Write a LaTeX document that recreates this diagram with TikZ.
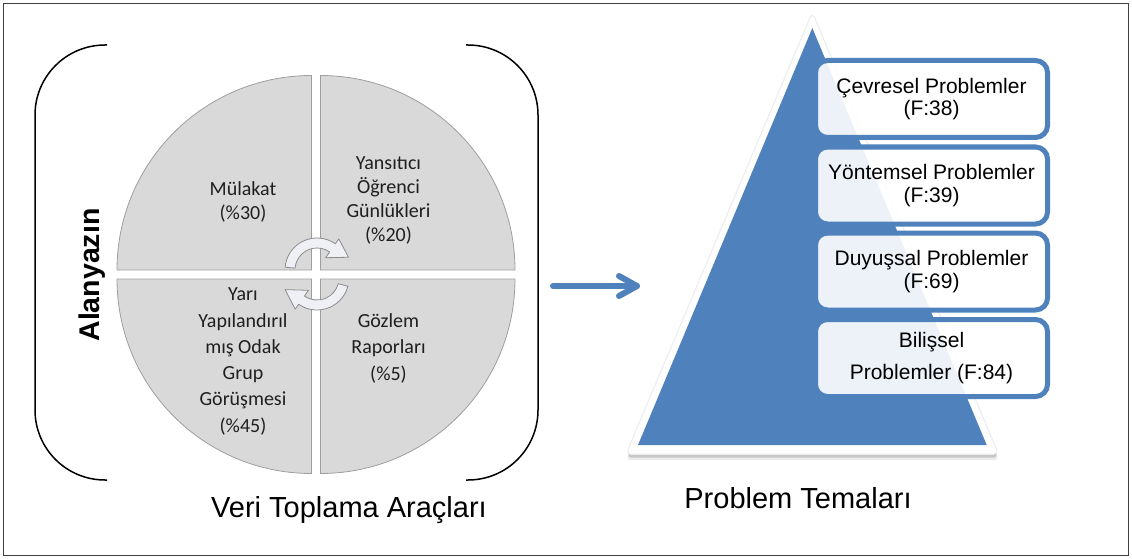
\documentclass[tikz,border=0pt]{standalone}
\usepackage{fontspec}
\setmainfont{Liberation Sans}
\newfontfamily\carl{Carlito}
\usetikzlibrary{arrows.meta}
\definecolor{myblue}{RGB}{79,129,189}
\definecolor{cycfill}{RGB}{238,240,246}
\begin{document}
\begin{tikzpicture}[x=1pt,y=1pt,yscale=-1,
  quad/.style={fill=black!15, draw=black!38, line width=0.8pt},
  qtext/.style={font=\carl\fontsize{20}{24}\selectfont, align=center, text=black!88},
  cyc/.style={fill=cycfill, draw=black!45, line width=0.8pt, line join=round},
  pbox/.style={draw=myblue, line width=5pt, rounded corners=12pt, fill=white, fill opacity=0.9, text opacity=1,
    minimum width=232pt, minimum height=77pt, align=center, inner sep=0pt, font=\fontsize{21}{22.5}\selectfont},
  brk/.style={line width=1.5pt, rounded corners=70pt},
  lbl/.style={font=\fontsize{29}{32}\selectfont, anchor=base},
  bigarrow/.style={myblue, line width=6pt, line cap=round, line join=round}
]
\useasboundingbox (0,0) rectangle (1132,559);
% frame
\draw[black!75, line width=1pt] (3.5,4) rectangle (1128.5,555.5);
% brackets
\draw[brk] (107,45) -- (35,45) -- (35,480) -- (107,480);
\draw[brk] (466,45) -- (538,45) -- (538,480) -- (466,480);
% quadrants
\draw[quad] (311.5,270) -- ++(-194.5,0) arc[start angle=180, end angle=270, radius=194.5] -- cycle;
\draw[quad] (320.5,270) -- ++(194.5,0) arc[start angle=0, end angle=-90, radius=194.5] -- cycle;
\draw[quad] (311.5,279) -- ++(-194.5,0) arc[start angle=180, end angle=90, radius=194.5] -- cycle;
\draw[quad] (320.5,279) -- ++(194.5,0) arc[start angle=0, end angle=90, radius=194.5] -- cycle;
% quadrant texts
\node[qtext] (q1) at (243,201.5) {Mülakat\\(\%30)};
\node[qtext] (q2) at (388.5,200.5) {Yansıtıcı\\Öğrenci\\Günlükleri\\(\%20)};
\node[qtext, font=\carl\fontsize{20}{26.3}\selectfont] (q3) at (243,361.5) {Yarı\\Yapılandırıl\\mış Odak\\Grup\\Görüşmesi\\(\%45)};
\node[qtext, font=\carl\fontsize{20}{26.5}\selectfont] (q4) at (388.5,348) {Gözlem\\Raporları\\(\%5)};
% circular arrows
\begin{scope}[shift={(317,270)}]
\draw[cyc] (-175:32) arc[start angle=-175, end angle=-55, radius=32] -- (-55:38) -- (-22:34) -- (-55:15) -- (-55:22) arc[start angle=-55, end angle=-175, radius=22] -- cycle;
\end{scope}
\begin{scope}[shift={(317,278)}]
\draw[cyc] (15:32) arc[start angle=15, end angle=125, radius=32] -- (125:38) -- (160:34) -- (125:15) -- (125:22) arc[start angle=125, end angle=15, radius=22] -- cycle;
\end{scope}
% Alanyazin
\node[font=\bfseries\fontsize{28.5}{32}\selectfont, rotate=90] (alan) at (92,275) {Alanyazın};
% captions
\node[lbl] (cap1) at (349,517) {Veri Toplama Araçları};
\node[lbl] (cap2) at (798,508) {Problem Temaları};
% big arrow
\coordinate (as) at (553,286);
\coordinate (ae) at (637,286);
\draw[bigarrow] (as) -- (ae);
\draw[bigarrow] ([shift={(-18,-10)}]ae) -- (ae) -- ([shift={(-18,10)}]ae);
% triangle with white border and shadow
\fill[black!8, rounded corners=4pt] (812.3,20) -- (626,460) -- (999,460) -- cycle;
\fill[black!22, rounded corners=4pt] (812.3,18) -- (627,457.5) -- (998,457.5) -- cycle;
\draw[black!7, line width=2.5pt, rounded corners=4pt] (812.3,14) -- (627,453.5) -- (997.5,453.5) -- cycle;
\fill[white, rounded corners=4pt] (812.3,14) -- (627,453.5) -- (997.5,453.5) -- cycle;
\fill[myblue] (812.3,28) -- (638,445) -- (986.7,445) -- cycle;
% boxes
\node[pbox] (b1) at (931.5,99) {Çevresel Problemler\\(F:38)};
\node[pbox] (b2) at (931.5,185.5) {Yöntemsel Problemler\\(F:39)};
\node[pbox] (b3) at (931.5,271.5) {Duyuşsal Problemler\\(F:69)};
\node[pbox, font=\fontsize{21}{31.5}\selectfont] (b4) at (931.5,358) {Bilişsel\\Problemler (F:84)};
\end{tikzpicture}
\end{document}
